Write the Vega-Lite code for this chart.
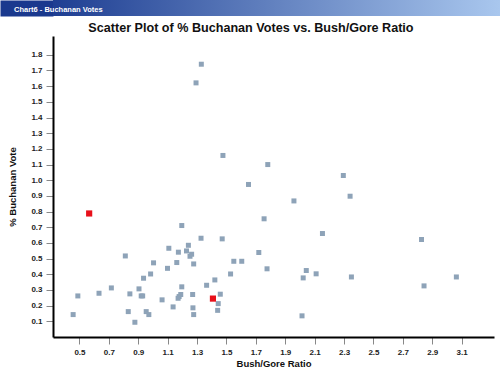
{
  "$schema": "https://vega.github.io/schema/vega-lite/v6.json",
  "background": "white",
  "padding": 0,
  "spacing": 6,
  "config": {
    "font": "Liberation Sans",
    "view": {"stroke": null},
    "axis": {"grid": false}
  },
  "vconcat": [
    {
      "width": 447,
      "height": 16,
      "data": {"values": [{"window": "Chart6 - Buchanan Votes"}]},
      "title": {
        "text": "Chart6 - Buchanan Votes",
        "anchor": "start",
        "frame": "bounds",
        "orient": "top",
        "offset": -13,
        "dx": 14,
        "zindex": 2,
        "color": "white",
        "fontSize": 7.5,
        "fontWeight": "bold",
        "font": "Liberation Sans"
      },
      "mark": {
        "type": "rect",
        "color": {
          "gradient": "linear",
          "x1": 0, "y1": 0, "x2": 1, "y2": 0,
          "stops": [
            {"offset": 0, "color": "#1e3e92"},
            {"offset": 1, "color": "#a9c7ee"}
          ]
        }
      },
      "encoding": {
        "y": {
          "field": "window",
          "type": "nominal",
          "scale": {"paddingInner": 0, "paddingOuter": 0},
          "axis": {
            "title": null,
            "labels": false,
            "ticks": false,
            "minExtent": 26.5,
            "zindex": 0,
            "domainColor": "#1a398e",
            "domainWidth": 53,
            "offset": 26.5
          }
        }
      }
    },
    {
      "width": 441,
      "height": 301,
      "title": {
        "text": "Scatter Plot of % Buchanan Votes vs. Bush/Gore Ratio",
        "fontSize": 12.6,
        "fontWeight": "bold",
        "color": "#111111",
        "anchor": "middle",
        "frame": "bounds",
        "offset": 1
      },
      "data": {
        "values": [
          {"ratio": 1.329, "pct": 1.740, "group": "county"},
          {"ratio": 1.293, "pct": 1.621, "group": "county"},
          {"ratio": 1.476, "pct": 1.158, "group": "county"},
          {"ratio": 1.650, "pct": 0.973, "group": "county"},
          {"ratio": 1.781, "pct": 1.100, "group": "county"},
          {"ratio": 2.295, "pct": 1.030, "group": "county"},
          {"ratio": 2.341, "pct": 0.898, "group": "county"},
          {"ratio": 1.959, "pct": 0.868, "group": "county"},
          {"ratio": 1.756, "pct": 0.754, "group": "county"},
          {"ratio": 2.153, "pct": 0.660, "group": "county"},
          {"ratio": 2.827, "pct": 0.622, "group": "county"},
          {"ratio": 1.720, "pct": 0.539, "group": "county"},
          {"ratio": 1.776, "pct": 0.435, "group": "county"},
          {"ratio": 2.043, "pct": 0.424, "group": "county"},
          {"ratio": 2.110, "pct": 0.403, "group": "county"},
          {"ratio": 2.022, "pct": 0.377, "group": "county"},
          {"ratio": 2.350, "pct": 0.383, "group": "county"},
          {"ratio": 3.064, "pct": 0.383, "group": "county"},
          {"ratio": 2.844, "pct": 0.326, "group": "county"},
          {"ratio": 2.014, "pct": 0.135, "group": "county"},
          {"ratio": 1.196, "pct": 0.711, "group": "county"},
          {"ratio": 1.327, "pct": 0.630, "group": "county"},
          {"ratio": 1.471, "pct": 0.626, "group": "county"},
          {"ratio": 1.108, "pct": 0.566, "group": "county"},
          {"ratio": 1.241, "pct": 0.585, "group": "county"},
          {"ratio": 1.228, "pct": 0.549, "group": "county"},
          {"ratio": 1.173, "pct": 0.541, "group": "county"},
          {"ratio": 1.263, "pct": 0.528, "group": "county"},
          {"ratio": 1.252, "pct": 0.515, "group": "county"},
          {"ratio": 0.812, "pct": 0.517, "group": "county"},
          {"ratio": 1.277, "pct": 0.466, "group": "county"},
          {"ratio": 1.162, "pct": 0.475, "group": "county"},
          {"ratio": 1.004, "pct": 0.473, "group": "county"},
          {"ratio": 1.550, "pct": 0.483, "group": "county"},
          {"ratio": 1.604, "pct": 0.483, "group": "county"},
          {"ratio": 1.099, "pct": 0.438, "group": "county"},
          {"ratio": 0.984, "pct": 0.402, "group": "county"},
          {"ratio": 1.528, "pct": 0.402, "group": "county"},
          {"ratio": 0.936, "pct": 0.375, "group": "county"},
          {"ratio": 1.421, "pct": 0.364, "group": "county"},
          {"ratio": 1.365, "pct": 0.330, "group": "county"},
          {"ratio": 1.196, "pct": 0.320, "group": "county"},
          {"ratio": 0.717, "pct": 0.313, "group": "county"},
          {"ratio": 0.905, "pct": 0.307, "group": "county"},
          {"ratio": 0.633, "pct": 0.279, "group": "county"},
          {"ratio": 0.843, "pct": 0.275, "group": "county"},
          {"ratio": 1.270, "pct": 0.271, "group": "county"},
          {"ratio": 1.458, "pct": 0.273, "group": "county"},
          {"ratio": 1.189, "pct": 0.271, "group": "county"},
          {"ratio": 1.178, "pct": 0.258, "group": "county"},
          {"ratio": 1.171, "pct": 0.247, "group": "county"},
          {"ratio": 0.920, "pct": 0.262, "group": "county"},
          {"ratio": 0.930, "pct": 0.262, "group": "county"},
          {"ratio": 0.489, "pct": 0.262, "group": "county"},
          {"ratio": 1.062, "pct": 0.237, "group": "county"},
          {"ratio": 1.444, "pct": 0.213, "group": "county"},
          {"ratio": 1.137, "pct": 0.192, "group": "county"},
          {"ratio": 1.272, "pct": 0.186, "group": "county"},
          {"ratio": 0.832, "pct": 0.162, "group": "county"},
          {"ratio": 0.954, "pct": 0.162, "group": "county"},
          {"ratio": 1.440, "pct": 0.170, "group": "county"},
          {"ratio": 0.972, "pct": 0.143, "group": "county"},
          {"ratio": 1.277, "pct": 0.143, "group": "county"},
          {"ratio": 0.457, "pct": 0.143, "group": "county"},
          {"ratio": 0.877, "pct": 0.094, "group": "county"},
          {"ratio": 0.566, "pct": 0.788, "group": "highlight"},
          {"ratio": 1.408, "pct": 0.245, "group": "highlight"}
        ]
      },
      "mark": {"type": "square", "filled": true, "opacity": 1},
      "encoding": {
        "x": {
          "field": "ratio",
          "type": "quantitative",
          "scale": {"domain": [0.32, 3.32], "nice": false, "zero": false},
          "axis": {
            "title": "Bush/Gore Ratio",
            "values": [0.5, 0.7, 0.9, 1.1, 1.3, 1.5, 1.7, 1.9, 2.1, 2.3, 2.5, 2.7, 2.9, 3.1],
            "format": ".1f",
            "domainColor": "#000000",
            "domainWidth": 2,
            "tickColor": "#888888",
            "tickWidth": 1,
            "tickSize": 7,
            "labelPadding": 4,
            "labelFontSize": 8,
            "labelFontWeight": "bold",
            "labelColor": "#222222",
            "titleFontSize": 9.5,
            "titleFontWeight": "bold",
            "titleColor": "#111111",
            "titlePadding": 2
          }
        },
        "y": {
          "field": "pct",
          "type": "quantitative",
          "scale": {"domain": [0, 1.92], "nice": false, "zero": false},
          "axis": {
            "title": "% Buchanan Vote",
            "values": [0.1, 0.2, 0.3, 0.4, 0.5, 0.6, 0.7, 0.8, 0.9, 1.0, 1.1, 1.2, 1.3, 1.4, 1.5, 1.6, 1.7, 1.8],
            "format": ".1f",
            "domainColor": "#000000",
            "domainWidth": 2,
            "tickColor": "#888888",
            "tickWidth": 1,
            "tickSize": 7,
            "labelPadding": 4,
            "labelFontSize": 8,
            "labelFontWeight": "bold",
            "labelColor": "#222222",
            "titleFontSize": 9.5,
            "titleFontWeight": "bold",
            "titleColor": "#111111",
            "titlePadding": 13
          }
        },
        "color": {
          "field": "group",
          "type": "nominal",
          "scale": {"domain": ["county", "highlight"], "range": ["#8ea3b8", "#e8101a"]},
          "legend": null
        },
        "size": {
          "field": "group",
          "type": "nominal",
          "scale": {"domain": ["county", "highlight"], "range": [25, 38]},
          "legend": null
        },
        "order": {"field": "group", "type": "nominal"}
      }
    }
  ]
}
